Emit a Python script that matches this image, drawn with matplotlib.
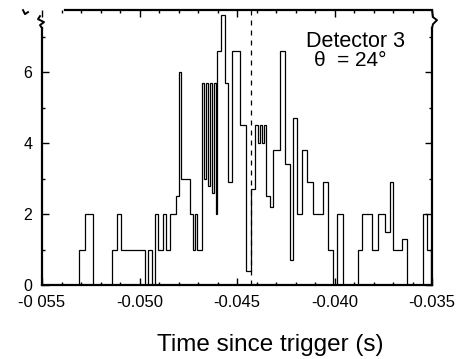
#!/usr/bin/env python3
import numpy as np
import matplotlib
matplotlib.use("Agg")
import matplotlib.pyplot as plt
from matplotlib.ticker import MultipleLocator

plt.rcParams['font.family'] = ['Liberation Sans', 'DejaVu Sans']

# bin edges (s) and counts
edges = [-0.05500, -0.05310, -0.05279, -0.05238, -0.05141, -0.05115, -0.05095,
         -0.04972, -0.04956, -0.04936, -0.04921, -0.04905, -0.04880, -0.04864,
         -0.04844, -0.04813, -0.04797, -0.04787, -0.04741, -0.04726, -0.04715,
         -0.04705, -0.04679, -0.04669, -0.04659, -0.04649, -0.04638, -0.04628,
         -0.04618, -0.04608, -0.04603, -0.04582, -0.04562, -0.04546, -0.04526,
         -0.04485, -0.04454, -0.04428, -0.04408, -0.04392, -0.04382, -0.04372,
         -0.04362, -0.04351, -0.04331, -0.04315, -0.04279, -0.04254, -0.04228,
         -0.04213, -0.04192, -0.04167, -0.04141, -0.04110, -0.04059, -0.04033,
         -0.04008, -0.03987, -0.03956, -0.03879, -0.03859, -0.03808, -0.03777,
         -0.03741, -0.03715, -0.03700, -0.03654, -0.03628, -0.03546, -0.03526,
         -0.03505]
counts = [0, 1, 2, 0, 1, 2, 1, 0, 1, 0, 2, 1, 2, 1, 2, 2.5, 6, 3, 2, 1,
          2, 1, 5.7, 3, 5.7, 2.8, 5.7, 2.6, 5.7, 2, 6.6, 7.6, 5.7, 2.9, 6.6,
          4.5, 0.4, 2.7, 4.5, 4.0, 4.5, 4.0, 4.5, 2.5, 2.2, 3.8, 6.6, 3.4,
          0.7, 4.7, 2.0, 3.8, 2.9, 2.0, 2.9, 1.0, 0, 2, 0, 1, 2, 1, 2, 1.5,
          2.9, 1, 1.3, 0, 2, 1]

marker_t = -0.04426   # dashed reference line

xticks = [-0.055, -0.050, -0.045, -0.040, -0.035]
xticklabels = ['-0 055', '-0.050', '-0.045', '-0.040', '-0.035']
yticks = [0, 2, 4, 6]

fig = plt.figure(figsize=(4.59, 3.59), dpi=100)
ax = fig.add_axes([42/459, 1 - 285/359, 390/459, 275/359])

ax.stairs(counts, edges, color='k', lw=0.9)
ax.axvline(marker_t, color='k', lw=0.9, ls=(0, (4, 4)))

ax.set_xlim(-0.055, -0.035)
ax.set_ylim(0, 7.75)

ax.set_xticks(xticks)
ax.set_xticklabels(xticklabels, fontsize=12)
ax.set_yticks(yticks)
ax.set_yticklabels([str(v) for v in yticks], fontsize=11.5)
ax.xaxis.set_minor_locator(MultipleLocator(0.001))
ax.yaxis.set_minor_locator(MultipleLocator(1))
ax.tick_params(which='both', direction='in', top=True, right=True, width=1.0)
ax.tick_params(which='major', length=5, pad=7)
ax.tick_params(which='minor', length=2.5)

for s in ax.spines.values():
    s.set_linewidth(1.6)
ax.spines['left'].set_bounds(0, 7.24)
ax.spines['right'].set_bounds(0, 7.24)
ax.spines['top'].set_bounds(-0.0538, -0.035)

# axis-break squiggles near the top of both y spines
def px2data(px, py):
    return -0.055 + (px - 42) / 19500.0, (285 - py) / 35.5

for pts in ([(42, 28), (40, 25), (44, 22), (38, 19), (40, 16)],
            [(432, 28), (433, 24), (437, 20), (433, 17), (432, 10)],
            [(23, 10), (25, 14), (28, 12)]):
    xy = np.array([px2data(*p) for p in pts])
    ax.plot(xy[:, 0], xy[:, 1], color='k', lw=1.4, clip_on=False)

ax.text(-0.03890, 6.85, 'Detector 3', fontsize=15.5, ha='center', va='center')
ax.text(-0.03920, 6.32, 'θ  = 24°', fontsize=15, ha='center', va='center')

fig.text(270/459, 1 - 345/359, 'Time since trigger (s)', fontsize=17.5,
         ha='center', va='center')

fig.savefig('out.png', dpi=100)
